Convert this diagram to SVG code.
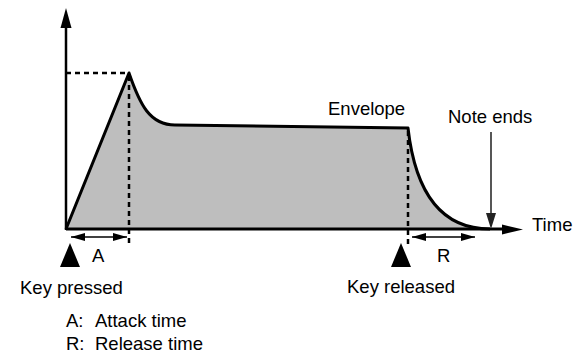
<svg xmlns="http://www.w3.org/2000/svg" width="585" height="355" viewBox="0 0 585 355">
<style>
text{font-family:"Liberation Sans",Arial,sans-serif;font-size:18.5px;fill:#000}
.dash{fill:none;stroke:#000;stroke-width:2.5;stroke-dasharray:5 4}
.ln{fill:none;stroke:#000;stroke-width:2.5}
</style>
<defs>
<marker id="ah" viewBox="0 0 14 8" refX="14" refY="4" markerWidth="14" markerHeight="8" markerUnits="userSpaceOnUse" orient="auto-start-reverse">
<path d="M0,0 L14,4 L0,8 Z" fill="#000"/>
</marker>
</defs>
<g id="envelope">
<path d="M66,229 L129,73 C140,105 150,125 175,125 L408,128 C415,190 440,229 490,229 Z" fill="#bebebe" stroke="none"/>
<path d="M66,229 L129,73 C140,105 150,125 175,125 L408,128 C415,190 440,229 490,229" fill="none" stroke="#000" stroke-width="3" stroke-linejoin="round"/>
</g>
<g id="connectors">
<line x1="66" y1="230" x2="66" y2="26" class="ln"/>
<path d="M66,8 L60.5,28 L71.5,28 Z" fill="#000"/>
<line x1="66" y1="229" x2="505" y2="229" stroke="#000" stroke-width="3"/>
<path d="M523,229.5 L502,224.5 L502,234.5 Z" fill="#000"/>
<line x1="66" y1="73" x2="129" y2="73" class="dash"/>
<line x1="129" y1="76" x2="129" y2="245" class="dash"/>
<line x1="408" y1="131" x2="408" y2="246" class="dash"/>
<line x1="71" y1="237" x2="127" y2="237" stroke="#000" stroke-width="1.5" marker-start="url(#ah)" marker-end="url(#ah)"/>
<line x1="412" y1="237" x2="475" y2="237" stroke="#000" stroke-width="1.5" marker-start="url(#ah)" marker-end="url(#ah)"/>
<line x1="491" y1="132" x2="491" y2="216" stroke="#444" stroke-width="1.8"/>
<path d="M491,229 L486,213 L496,213 Z" fill="#222"/>
</g>
<g id="key-pressed">
<path d="M70,243 L60,267 L80,267 Z" fill="#000"/>
<text x="20" y="294">Key pressed</text>
</g>
<g id="key-released">
<path d="M401,243 L391,267 L411,267 Z" fill="#000"/>
<text x="347" y="293">Key released</text>
</g>
<g id="labels">
<text x="92" y="262">A</text>
<text x="437" y="262">R</text>
<text x="328" y="115">Envelope</text>
<text x="448" y="123">Note ends</text>
<text x="532" y="231">Time</text>
<text x="66" y="327">A:</text>
<text x="95" y="327">Attack time</text>
<text x="66" y="350">R:</text>
<text x="95" y="350">Release time</text>
</g>
</svg>
